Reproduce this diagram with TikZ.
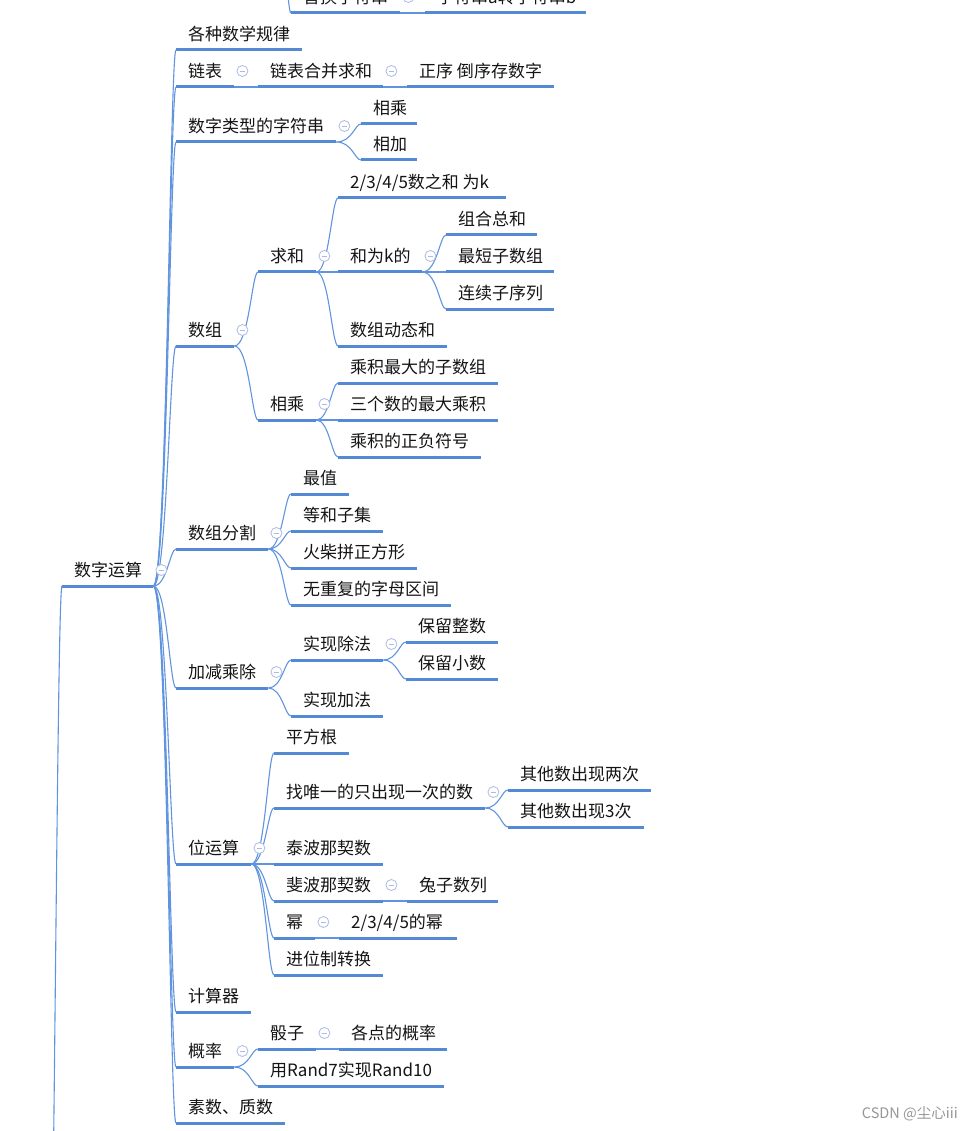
\documentclass[tikz,border=0pt]{standalone}
\usepackage{fontspec}
\usetikzlibrary{calc}
\newfontfamily\cjk{Noto Sans CJK SC}
\definecolor{ulc}{RGB}{84,138,212}
\definecolor{cnc}{RGB}{96,148,222}
\definecolor{clc}{RGB}{172,186,230}
\definecolor{txc}{RGB}{20,20,20}
\definecolor{wmc}{RGB}{150,150,150}
\tikzset{
  mn/.style={anchor=south west, inner xsep=12pt, inner ysep=2pt, text height=14pt, text depth=7.5pt,
    font=\cjk\fontsize{17}{20}\selectfont, text=txc},
  ul/.style={draw=ulc, line width=3pt},
  conn/.style={draw=cnc, line width=1.1pt},
  coll/.style={circle, draw=clc, fill=white, line width=0.8pt, minimum size=11pt, inner sep=0pt},
  collm/.style={draw=clc, line width=0.9pt},
  wm/.style={font=\cjk\fontsize{14.5}{17}\selectfont, text=wmc, inner sep=0pt}
}
\newcommand\mnode[5]{%
  \pgfmathsetlengthmacro\mnw{#3-#2-24}%
  \node[mn] (#1) at (#2,#4) {\makebox[\mnw][l]{#5}};%
  \draw[ul] (#1.south west) -- (#1.south east);}
\newcommand\lnk[2]{\draw[conn] (#1.south east) .. controls ($(#2.south west |- #1.south east)+(-9,0)$) and ($(#2.south west)+(-6,0)$) .. (#2.south west);}
\newcommand\cl[1]{\node[coll] (#1-c) at ($(#1.south east)+(8,-16)$) {};%
  \draw[collm] ($(#1-c.center)+(-2.6,0)$) -- ($(#1-c.center)+(2.6,0)$);}
\begin{document}
\begin{tikzpicture}[x=1pt,y=-1pt]
\useasboundingbox (0,0) rectangle (974,1131);
\clip (0,0) rectangle (974,1131);
% nodes
\mnode{t1}{291}{400}{13}{替换字符串}
\mnode{t2}{425}{586}{13}{字符串a转字符串b}
\mnode{root}{62}{153}{586}{数字运算}
\mnode{a}{176}{302}{50}{各种数学规律}
\mnode{b}{176}{234}{87}{链表}
\mnode{b1}{258}{383}{87}{链表合并求和}
\mnode{b2}{407}{554}{87}{正序 倒序存数字}
\mnode{c}{176}{336}{142}{数字类型的字符串}
\mnode{c1}{361}{417}{124}{相乘}
\mnode{c2}{361}{417}{160}{相加}
\mnode{d}{176}{234}{346}{数组}
\mnode{d1}{258}{316}{272}{求和}
\mnode{d11}{338}{506}{198}{2/3/4/5数之和 为k}
\mnode{d12}{338}{422}{272}{和为k的}
\mnode{d121}{446}{537}{235}{组合总和}
\mnode{d122}{446}{554}{272}{最短子数组}
\mnode{d123}{446}{554}{309}{连续子序列}
\mnode{d13}{338}{447}{346}{数组动态和}
\mnode{d2}{258}{316}{420}{相乘}
\mnode{d21}{338}{498}{383}{乘积最大的子数组}
\mnode{d22}{338}{498}{420}{三个数的最大乘积}
\mnode{d23}{338}{481}{457}{乘积的正负符号}
\mnode{e}{176}{268}{549}{数组分割}
\mnode{e1}{291}{349}{494}{最值}
\mnode{e2}{291}{383}{531}{等和子集}
\mnode{e3}{291}{417}{568}{火柴拼正方形}
\mnode{e4}{291}{451}{605}{无重复的字母区间}
\mnode{f}{176}{268}{688}{加减乘除}
\mnode{f1}{291}{383}{660}{实现除法}
\mnode{f11}{406}{498}{642}{保留整数}
\mnode{f12}{406}{498}{679}{保留小数}
\mnode{f2}{291}{383}{716}{实现加法}
\mnode{g}{176}{251}{864}{位运算}
\mnode{g1}{274}{349}{753}{平方根}
\mnode{g2}{274}{485}{808}{找唯一的只出现一次的数}
\mnode{g21}{508}{651}{790}{其他数出现两次}
\mnode{g22}{508}{644}{827}{其他数出现3次}
\mnode{g3}{274}{383}{864}{泰波那契数}
\mnode{g4}{274}{383}{901}{斐波那契数}
\mnode{g41}{407}{498}{901}{兔子数列}
\mnode{g5}{274}{315}{938}{幂}
\mnode{g51}{339}{457}{938}{2/3/4/5的幂}
\mnode{g6}{274}{383}{975}{进位制转换}
\mnode{h}{176}{251}{1012}{计算器}
\mnode{i}{176}{234}{1067}{概率}
\mnode{i1}{258}{316}{1049}{骰子}
\mnode{i11}{339}{447}{1049}{各点的概率}
\mnode{i2}{258}{444}{1086}{用Rand7实现Rand10}
\mnode{j}{176}{285}{1123}{素数、质数}
% free ends of connectors leaving the picture
\coordinate (rootp) at (40,1700);
\coordinate (topp) at (262,-200);
\draw[conn] (rootp) .. controls (53,1700) and (56,586) .. (root.south west);
\draw[conn] (topp) .. controls (282,-200) and (285,13) .. (t1.south west);
% connectors
\lnk{t1}{t2}
\foreach \k in {a,b,c,d,e,f,g,h,i,j} {\lnk{root}{\k}}
\lnk{b}{b1} \lnk{b1}{b2}
\lnk{c}{c1} \lnk{c}{c2}
\lnk{d}{d1} \lnk{d}{d2}
\lnk{d1}{d11} \lnk{d1}{d12} \lnk{d1}{d13}
\lnk{d12}{d121} \lnk{d12}{d122} \lnk{d12}{d123}
\lnk{d2}{d21} \lnk{d2}{d22} \lnk{d2}{d23}
\lnk{e}{e1} \lnk{e}{e2} \lnk{e}{e3} \lnk{e}{e4}
\lnk{f}{f1} \lnk{f}{f2}
\lnk{f1}{f11} \lnk{f1}{f12}
\lnk{g}{g1} \lnk{g}{g2} \lnk{g}{g3} \lnk{g}{g4} \lnk{g}{g5} \lnk{g}{g6}
\lnk{g2}{g21} \lnk{g2}{g22}
\lnk{g4}{g41}
\lnk{g5}{g51}
\lnk{i}{i1} \lnk{i}{i2}
\lnk{i1}{i11}
% collapse markers
\cl{t1} \cl{root} \cl{b} \cl{b1} \cl{c} \cl{d} \cl{d1} \cl{d12} \cl{d2}
\cl{e} \cl{f} \cl{f1} \cl{g} \cl{g2} \cl{g4} \cl{g5} \cl{i} \cl{i1}
% watermark
\node[wm, anchor=east] (wm) at (958,1114) {CSDN @尘心iii};
\end{tikzpicture}
\end{document}
